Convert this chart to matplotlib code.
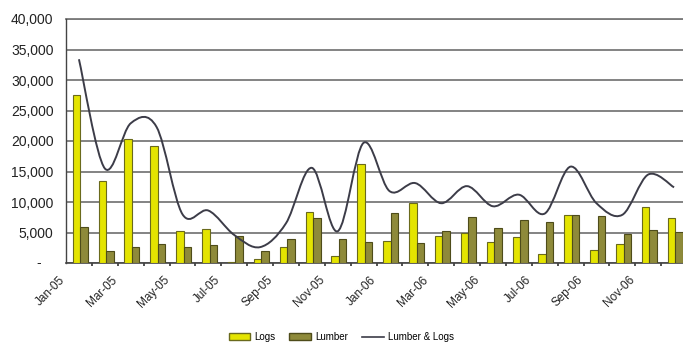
import numpy as np
import matplotlib
matplotlib.use("Agg")
import matplotlib.pyplot as plt
import matplotlib.transforms as mtransforms
from matplotlib.path import Path
from matplotlib.patches import PathPatch
from matplotlib.lines import Line2D
from matplotlib.patches import Patch

plt.rcParams['font.family'] = ['Liberation Sans', 'DejaVu Sans']

# monthly volumes, Jan-05 .. Dec-06
months = ['Jan-05', 'Feb-05', 'Mar-05', 'Apr-05', 'May-05', 'Jun-05',
          'Jul-05', 'Aug-05', 'Sep-05', 'Oct-05', 'Nov-05', 'Dec-05',
          'Jan-06', 'Feb-06', 'Mar-06', 'Apr-06', 'May-06', 'Jun-06',
          'Jul-06', 'Aug-06', 'Sep-06', 'Oct-06', 'Nov-06', 'Dec-06']
logs = [27500, 13500, 20300, 19200, 5300, 5600,
        100, 700, 2600, 8300, 1200, 16200,
        3600, 9900, 4500, 5000, 3500, 4200,
        1400, 7900, 2100, 3100, 9100, 7300]
lumber = [5900, 2000, 2600, 3100, 2700, 3000,
          4500, 1900, 3900, 7300, 4000, 3500,
          8200, 3200, 5300, 7600, 5800, 7000,
          6700, 7900, 7700, 4800, 5400, 5100]
y_ticks = [0, 5000, 10000, 15000, 20000, 25000, 30000, 35000, 40000]

LOGS_COLOR = '#e4e400'
LUMBER_COLOR = '#8e8a3a'
LINE_COLOR = '#3c3c48'


def smooth_path(xs, ys, k=1.0 / 6):
    """Bezier path through the points, spreadsheet-style smoothing."""
    pts = np.column_stack([xs, ys]).astype(float)
    n = len(pts)
    verts = [pts[0]]
    codes = [Path.MOVETO]
    for i in range(n - 1):
        p0 = pts[i - 1] if i > 0 else pts[i]
        p1 = pts[i]
        p2 = pts[i + 1]
        p3 = pts[i + 2] if i + 2 < n else pts[i + 1]
        verts += [p1 + (p2 - p0) * k, p2 - (p3 - p1) * k, p2]
        codes += [Path.CURVE4] * 3
    return Path(verts, codes)


fig = plt.figure(figsize=(6.83, 3.44), dpi=100)
ax = fig.add_axes([66 / 683, 81 / 344, 621 / 683, 244 / 344])

x = np.arange(len(months))
total = np.array(logs) + np.array(lumber)
w = 0.29
ax.bar(x - w / 2 + 0.05, logs, w, color=LOGS_COLOR, edgecolor='#6a6a1c',
       linewidth=0.8, zorder=3)
ax.bar(x + w / 2 + 0.05, lumber, w, color=LUMBER_COLOR, edgecolor='#4e4c1a',
       linewidth=0.8, zorder=3)

ax.add_patch(PathPatch(smooth_path(x, total), facecolor='none',
                       edgecolor=LINE_COLOR, linewidth=1.4, zorder=4))

ax.set_xlim(-0.5, len(months) - 0.5)
ax.set_ylim(0, 40000)
ax.set_yticks(y_ticks)
ax.set_yticklabels([''] + [f'{v:,}' for v in y_ticks[1:]], fontsize=10,
                   color='#222222')
ax.text(-0.04, 0, '-', transform=ax.get_yaxis_transform(), ha='right',
        va='center', fontsize=10, color='#222222')
ax.tick_params(axis='y', length=0, pad=9)
ax.yaxis.grid(True, color='#7a7a7a', linewidth=1.3, zorder=1)
ax.axhline(40000, color='#7a7a7a', linewidth=1.3, clip_on=False, zorder=1)

ax.set_xticks(x[::2])
ax.set_xticklabels(months[::2], rotation=45, ha='right', va='top',
                   fontsize=8.5, color='#222222')
ax.tick_params(axis='x', length=0, pad=5)
shift = mtransforms.ScaledTranslation(-0.11, -0.04, fig.dpi_scale_trans)
for lbl in ax.get_xticklabels():
    lbl.set_transform(lbl.get_transform() + shift)
ax.set_xticks(x[:-1] + 0.5, minor=True)
ax.tick_params(axis='x', which='minor', length=2, width=1.2, color='#333333')

for side in ['top', 'right']:
    ax.spines[side].set_visible(False)
ax.spines['left'].set_color('#444444')
ax.spines['bottom'].set_color('#444444')
ax.spines['left'].set_linewidth(1.0)
ax.spines['bottom'].set_linewidth(1.2)

handles = [Patch(facecolor=LOGS_COLOR, edgecolor='#6a6a1c', label='Logs'),
           Patch(facecolor=LUMBER_COLOR, edgecolor='#4e4c1a', label='Lumber'),
           Line2D([], [], color=LINE_COLOR, linewidth=1.2, label='Lumber & Logs')]
fig.legend(handles=handles, loc='center', bbox_to_anchor=(341 / 683, 1 - 337 / 344),
           ncol=3, frameon=False, fontsize=7, handlelength=2.2, handleheight=0.6,
           columnspacing=1.5, handletextpad=0.4)

fig.savefig('out.png', dpi=100)
